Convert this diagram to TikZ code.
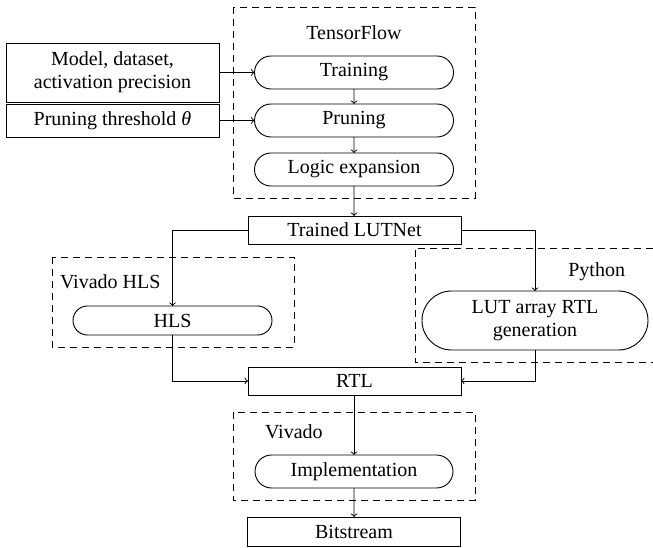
\documentclass[tikz,border=0pt]{standalone}
\usepackage{fontspec}
\setmainfont{Liberation Serif}
\usetikzlibrary{shapes.misc}
\begin{document}
\begin{tikzpicture}[x=0.6pt,y=-0.6pt,line width=0.55pt,
  every node/.style={inner sep=0pt,outer sep=0pt,font=\fontsize{12}{13.8}\selectfont},
  sqbox/.style={draw,rectangle,minimum width=127.8pt,align=center},
  rbox/.style={draw,rounded rectangle,align=center},
  grp/.style={draw,dash pattern=on 4.2pt off 3pt},
  flow/.style={->}]
\useasboundingbox (0,0) rectangle (653,548);
% groups
\draw[grp] (233,7) rectangle (475,198);
\draw[grp] (52,257) rectangle (294,347);
\draw[grp] (653,248) -- (415,248) -- (415,362) -- (653,362);
\draw[grp] (233,412) rectangle (475,500);
% group labels
\node (ltf) at (354,33) {TensorFlow};
\node[anchor=west] (lvh) at (60,282) {Vivado HLS};
\node[anchor=east] (lpy) at (625,272) {Python};
\node[anchor=west] (lvi) at (265,432) {Vivado};
% nodes
\node[sqbox,minimum height=35.4pt] (m1) at (112.5,72.5) {Model, dataset,\\activation precision};
\node[sqbox,minimum height=19.8pt] (m2) at (112.5,120.5) {Pruning threshold \textit{θ}};
\node[rbox,minimum width=119.4pt,minimum height=19.8pt] (train) at (354,72.5) {Training};
\node[rbox,minimum width=119.4pt,minimum height=19.8pt] (prune) at (354,120.5) {Pruning};
\node[rbox,minimum width=119.4pt,minimum height=19.8pt] (logic) at (354,169.5) {Logic expansion};
\node[sqbox,minimum height=16.8pt] (lut) at (354.5,230) {Trained LUTNet};
\node[rbox,minimum width=119.4pt,minimum height=17.4pt] (hls) at (172.5,320.5) {HLS};
\node[rbox,minimum width=135.6pt,minimum height=35.4pt] (gen) at (535,320.5) {LUT array RTL\\generation};
\node[sqbox,minimum height=16.8pt] (rtl) at (354.5,381) {RTL};
\node[rbox,minimum width=118.8pt,minimum height=19.8pt] (impl) at (354,471.5) {Implementation};
\node[sqbox,minimum height=17.4pt] (bit) at (354,531.5) {Bitstream};
% connectors
\draw[flow] (m1.east) -- (train.west);
\draw[flow] (m2.east) -- (prune.west);
\draw[flow] (train) -- (prune);
\draw[flow] (prune) -- (logic);
\draw[flow] (logic) -- (logic.south |- lut.north);
\draw[flow] (lut.west) -| (hls.north);
\draw[flow] (lut.east) -| (gen.north);
\draw[flow] (hls.south) |- (rtl.west);
\draw[flow] (gen.south) |- (rtl.east);
\draw[flow] (rtl.south -| impl.north) -- (impl.north);
\draw[flow] (impl) -- (impl.south |- bit.north);
\end{tikzpicture}
\end{document}
